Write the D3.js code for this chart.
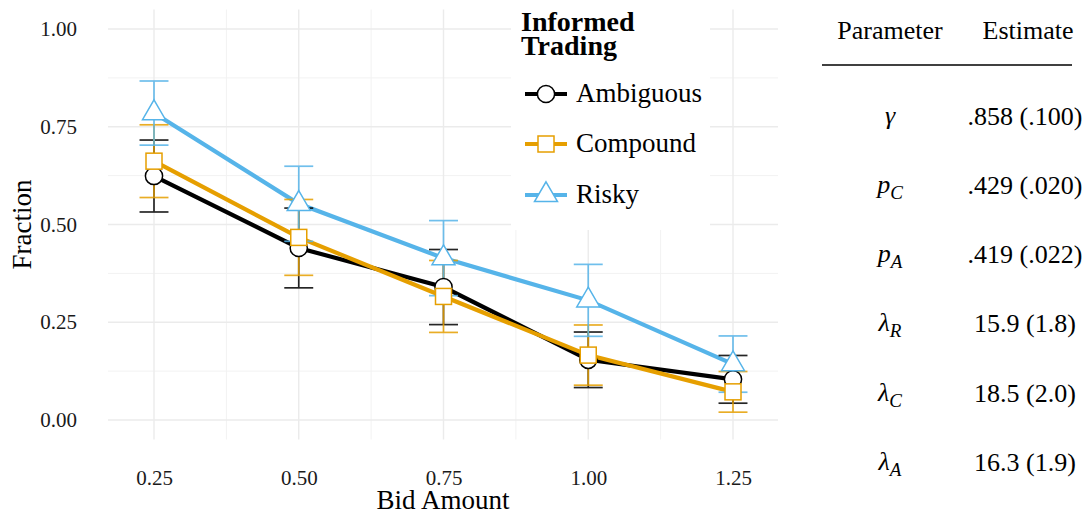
<!DOCTYPE html>
<html>
<head>
<meta charset="utf-8">
<script src="https://cdn.jsdelivr.net/npm/d3@7"></script>
<style>
  html, body { margin: 0; padding: 0; background: #fff; }
  svg { display: block; }
  svg text { font-family: "Liberation Serif", "Times New Roman", serif; }
</style>
</head>
<body>
<svg id="chart" width="1084" height="514"></svg>
<script>
// Bid amounts on the x axis
const bids = [0.25, 0.50, 0.75, 1.00, 1.25];
const xTicks = [0.25, 0.50, 0.75, 1.00, 1.25];
const yTicks = [0, 0.25, 0.50, 0.75, 1.00];

// Fraction of informed trading per treatment, with error-bar half widths
const seriesNames = ["Ambiguous", "Compound", "Risky"];
const ambiguous    = [0.624, 0.440, 0.340, 0.154, 0.104];
const ambiguousErr = [0.092, 0.102, 0.096, 0.071, 0.061];
const compound     = [0.662, 0.467, 0.316, 0.166, 0.072];
const compoundErr  = [0.093, 0.097, 0.092, 0.077, 0.052];
const risky        = [0.785, 0.553, 0.414, 0.306, 0.143];
const riskyErr     = [0.082, 0.096, 0.096, 0.092, 0.072];

// Parameter estimates (standard errors)
const paramSymbols = ["γ", "p", "p", "λ", "λ", "λ"];
const paramSubs    = ["", "C", "A", "R", "C", "A"];
const estimates    = [".858 (.100)", ".429 (.020)", ".419 (.022)", "15.9 (1.8)", "18.5 (2.0)", "16.3 (1.9)"];

const colors = { Ambiguous: "#000000", Compound: "#E69F00", Risky: "#56B4E9" };
const shapes = { Ambiguous: "circle", Compound: "square", Risky: "triangle" };

const series = [
  { name: "Ambiguous", values: ambiguous, err: ambiguousErr },
  { name: "Compound",  values: compound,  err: compoundErr },
  { name: "Risky",     values: risky,     err: riskyErr }
].map(s => ({ ...s, pts: bids.map((b, i) => ({ x: b, y: s.values[i], e: s.err[i] })) }));

const svg = d3.select("#chart");

const x = d3.scaleLinear().domain([0.25, 1.25]).range([154, 733]);
const y = d3.scaleLinear().domain([0, 1]).range([420, 29]);

const panel = { left: 108, right: 778, top: y(1.05), bottom: y(-0.05) };

// Grid
const grid = svg.append("g");
const xMinor = [0.375, 0.625, 0.875, 1.125];
const yMinor = [0.125, 0.375, 0.625, 0.875];
grid.selectAll(".ymin").data(yMinor).join("line")
  .attr("x1", panel.left).attr("x2", panel.right)
  .attr("y1", d => y(d)).attr("y2", d => y(d))
  .attr("stroke", "#f2f2f2").attr("stroke-width", 1);
grid.selectAll(".xmin").data(xMinor).join("line")
  .attr("y1", panel.top).attr("y2", panel.bottom)
  .attr("x1", d => x(d)).attr("x2", d => x(d))
  .attr("stroke", "#f2f2f2").attr("stroke-width", 1);
grid.selectAll(".ymaj").data(yTicks).join("line")
  .attr("x1", panel.left).attr("x2", panel.right)
  .attr("y1", d => y(d)).attr("y2", d => y(d))
  .attr("stroke", "#ebebeb").attr("stroke-width", 1.4);
grid.selectAll(".xmaj").data(xTicks).join("line")
  .attr("y1", panel.top).attr("y2", panel.bottom)
  .attr("x1", d => x(d)).attr("x2", d => x(d))
  .attr("stroke", "#ebebeb").attr("stroke-width", 1.4);

// Axes (labels only)
const fmt = d3.format(".2f");
const yAxis = svg.append("g").attr("transform", `translate(${panel.left},0)`)
  .call(d3.axisLeft(y).tickValues(yTicks).tickFormat(fmt).tickSize(0).tickPadding(31));
const xAxis = svg.append("g").attr("transform", `translate(0,${panel.bottom})`)
  .call(d3.axisBottom(x).tickValues(xTicks).tickFormat(fmt).tickSize(0).tickPadding(31));
[yAxis, xAxis].forEach(a => {
  a.attr("font-family", null);
  a.select(".domain").remove();
  a.selectAll("text").attr("font-size", 21).attr("fill", "#1a1a1a");
});

svg.append("text").attr("x", (panel.left + panel.right) / 2).attr("y", 509)
  .attr("text-anchor", "middle").attr("font-size", 27).text("Bid Amount");
svg.append("text")
  .attr("transform", `translate(31,${(panel.top + panel.bottom) / 2}) rotate(-90)`)
  .attr("text-anchor", "middle").attr("font-size", 27).text("Fraction");

// Legend background (drawn over the grid)
svg.append("rect").attr("x", 511).attr("y", 0).attr("width", 199).attr("height", 230)
  .attr("fill", "#fff");

// Lines
const line = d3.line().x(d => x(d.x)).y(d => y(d.y));
svg.append("g").selectAll("path").data(series).join("path")
  .attr("d", s => line(s.pts)).attr("fill", "none")
  .attr("stroke", s => colors[s.name]).attr("stroke-width", 4.2);

// Error bars
const capHalf = x(0.275) - x(0.25);
const eb = svg.append("g").selectAll("g").data(series).join("g")
  .attr("stroke", s => colors[s.name]).attr("stroke-width", 1.7).attr("opacity", 0.85);
eb.selectAll(".v").data(s => s.pts).join("line")
  .attr("x1", d => x(d.x)).attr("x2", d => x(d.x))
  .attr("y1", d => y(d.y - d.e)).attr("y2", d => y(d.y + d.e));
eb.selectAll(".t").data(s => s.pts).join("line")
  .attr("x1", d => x(d.x) - capHalf).attr("x2", d => x(d.x) + capHalf)
  .attr("y1", d => y(d.y + d.e)).attr("y2", d => y(d.y + d.e));
eb.selectAll(".b").data(s => s.pts).join("line")
  .attr("x1", d => x(d.x) - capHalf).attr("x2", d => x(d.x) + capHalf)
  .attr("y1", d => y(d.y - d.e)).attr("y2", d => y(d.y - d.e));

// Point markers
function marker(sel, shape, color) {
  if (shape === "circle") {
    sel.append("circle").attr("r", 8.6);
  } else if (shape === "square") {
    sel.append("rect").attr("x", -8).attr("y", -8).attr("width", 16).attr("height", 16);
  } else {
    sel.append("path").attr("d", "M0,-13.2L11.5,6.6L-11.5,6.6Z");
  }
  sel.selectAll("*").attr("fill", "#fff").attr("stroke", color).attr("stroke-width", 1.5);
}
series.forEach(s => {
  svg.append("g").selectAll("g").data(s.pts).join("g")
    .attr("transform", d => `translate(${x(d.x)},${y(d.y)})`)
    .each(function () { marker(d3.select(this), shapes[s.name], colors[s.name]); });
});

// Legend
const lg = svg.append("g");
lg.append("text").attr("x", 521).attr("y", 31).attr("font-size", 28).attr("font-weight", "bold")
  .text("Informed");
lg.append("text").attr("x", 521).attr("y", 55).attr("font-size", 28).attr("font-weight", "bold")
  .text("Trading");
const keyY = [94, 144, 195];
seriesNames.forEach((n, i) => {
  const k = lg.append("g").attr("transform", `translate(0,${keyY[i]})`);
  k.append("line").attr("x1", 525).attr("x2", 567).attr("stroke", colors[n]).attr("stroke-width", 4.2);
  const m = k.append("g").attr("transform", "translate(546,0)");
  marker(m, shapes[n], colors[n]);
  k.append("text").attr("x", 576).attr("y", 8).attr("font-size", 27).text(n);
});

// Parameter table
const tb = svg.append("g").attr("font-size", 26);
const colParam = 890, colEst = 1025;
tb.append("text").attr("x", colParam).attr("y", 39).attr("text-anchor", "middle").text("Parameter");
tb.append("text").attr("x", colEst + 3).attr("y", 39).attr("text-anchor", "middle").text("Estimate");
tb.append("line").attr("x1", 822).attr("x2", 1072).attr("y1", 65).attr("y2", 65)
  .attr("stroke", "#000").attr("stroke-width", 1.4);
const rowY = [116, 185, 254, 323, 393, 462];
paramSymbols.forEach((sym, i) => {
  const t = tb.append("text").attr("x", colParam).attr("y", rowY[i] + 8).attr("text-anchor", "middle");
  t.append("tspan").attr("font-style", "italic").text(sym);
  if (paramSubs[i]) {
    t.append("tspan").attr("font-style", "italic").attr("font-size", 19).attr("dy", 6).text(paramSubs[i]);
  }
  tb.append("text").attr("x", colEst).attr("y", rowY[i] + 9).attr("text-anchor", "middle").text(estimates[i]);
});
</script>
</body>
</html>
